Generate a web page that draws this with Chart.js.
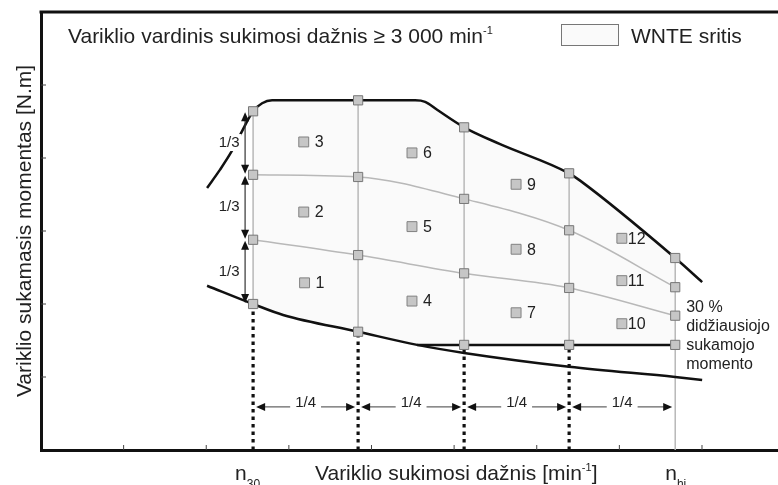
<!DOCTYPE html>
<html>
<head>
<meta charset="utf-8">
<script src="https://cdn.jsdelivr.net/npm/chart.js@4.4.1/dist/chart.umd.min.js"></script>
<style>
    html, body { margin: 0; padding: 0; background: #fff; }
    #wrap { width: 778px; height: 485px; }
</style>
</head>
<body>
<div id="wrap"><canvas id="chart" width="778" height="485"></canvas></div>
<script>
// axis ticks (no labels, only small inner marks)
const xTicks = [1, 2, 3, 4, 5, 6, 7, 8];
const yTicks = [1, 2, 3, 4, 5];

// test grid: 5 speed columns, 4 torque rows on each
const colX = [2.567, 3.838, 5.121, 6.392, 7.676];
const rowBottom = [2.00, 1.62, 1.44, 1.44, 1.44];
const rowLow = [2.88, 2.67, 2.42, 2.22, 1.84];
const rowMid = [3.77, 3.74, 3.44, 3.01, 2.23];
const rowTop = [4.64, 4.79, 4.42, 3.79, 2.63];

// full load torque curve
const fullX = [2.010, 2.167, 2.312, 2.421, 2.567, 2.676, 2.797, 3.838, 4.528, 4.649, 4.794, 5.121, 5.557, 6.392, 6.525, 7.676, 8.002];
const fullY = [3.59, 3.84, 4.10, 4.34, 4.64, 4.75, 4.79, 4.79, 4.79, 4.77, 4.66, 4.42, 4.19, 3.79, 3.69, 2.63, 2.30];

// lower torque curve
const lowX = [2.010, 2.567, 2.930, 3.838, 4.552, 5.121, 6.392, 7.676, 8.002];
const lowY = [2.25, 2.00, 1.85, 1.62, 1.44, 1.33, 1.14, 1.00, 0.96];

// 30 % of max torque line
const pct30 = 1.44;
const pct30FromX = 4.552;

// numbered control zones
const zoneNo = ['1', '2', '3', '4', '5', '6', '7', '8', '9', '10', '11', '12'];
const zoneX = [3.19, 3.18, 3.18, 4.49, 4.49, 4.49, 5.75, 5.75, 5.75, 7.03, 7.03, 7.03];
const zoneY = [2.29, 3.26, 4.22, 2.04, 3.06, 4.07, 1.88, 2.75, 3.64, 1.73, 2.32, 2.90];

const arrowLevel = 0.59;
const FONT = '"Liberation Sans", Arial, sans-serif';

function pts(xs, ys) {
    return xs.map(function (x, i) { return {x: x, y: ys[i]}; });
}

function lineSet(data, color, width, extra) {
    return Object.assign({
        data: data, borderColor: color, borderWidth: width, pointRadius: 0,
        showLine: true, fill: false, order: 2
    }, extra || {});
}

// WNTE area outline
const eps = 1e-6;
const upper = pts(fullX, fullY).filter(function (p) { return p.x >= colX[0] - eps && p.x <= colX[4] + eps; });
const lower = pts(lowX, lowY).filter(function (p) { return p.x >= colX[0] - eps && p.x <= pct30FromX + eps; });
const wnte = upper.concat([{x: colX[4], y: pct30}, {x: pct30FromX, y: pct30}], lower.reverse());

const datasets = [];
datasets.push(lineSet(wnte, 'rgba(0,0,0,0)', 0, {fill: 'shape', backgroundColor: '#fafafa', order: 9}));

colX.forEach(function (x, i) {
    const from = i === colX.length - 1 ? 0 : rowBottom[i];
    datasets.push(lineSet([{x: x, y: from}, {x: x, y: rowTop[i]}], '#b8b8b8', 1.5, {order: 4}));
    if (i < colX.length - 1) {
        datasets.push(lineSet([{x: x, y: 0}, {x: x, y: rowBottom[i]}], '#111', 3.2, {borderDash: [3.5, 4], order: 3}));
    }
});
datasets.push(lineSet(pts(colX, rowLow), '#b8b8b8', 1.5, {cubicInterpolationMode: 'monotone', order: 4}));
datasets.push(lineSet(pts(colX, rowMid), '#b8b8b8', 1.5, {cubicInterpolationMode: 'monotone', order: 4}));

datasets.push(lineSet(pts(fullX, fullY), '#111', 2.5, {cubicInterpolationMode: 'monotone'}));
datasets.push(lineSet(pts(lowX, lowY), '#111', 2.5, {cubicInterpolationMode: 'monotone'}));
datasets.push(lineSet([{x: pct30FromX, y: pct30}, {x: colX[4], y: pct30}], '#111', 2.5));

let grid = [];
[rowBottom, rowLow, rowMid, rowTop].forEach(function (row) { grid = grid.concat(pts(colX, row)); });
datasets.push({
    data: grid, showLine: false, pointStyle: 'rect', pointRadius: 6.5,
    backgroundColor: '#c6c6c6', borderColor: '#777', borderWidth: 1, order: 0
});
datasets.push({
    data: pts(zoneX, zoneY), showLine: false, pointStyle: 'rect', pointRadius: 7,
    backgroundColor: '#c6c6c6', borderColor: '#808080', borderWidth: 1, order: 0
});

function head(ctx, x, y, dx, dy) {
    const L = 9, W = 4;
    ctx.beginPath();
    ctx.moveTo(x, y);
    ctx.lineTo(x - dx * L - dy * W, y - dy * L + dx * W);
    ctx.lineTo(x - dx * L + dy * W, y - dy * L - dx * W);
    ctx.closePath();
    ctx.fill();
}

function supText(ctx, parts, x, y) {
    // parts: [text, size, dy]
    parts.forEach(function (p) {
        ctx.font = p[1] + 'px ' + FONT;
        ctx.fillText(p[0], x, y + p[2]);
        x += ctx.measureText(p[0]).width;
    });
}

const overlay = {
    id: 'overlay',
    afterDatasetsDraw: function (chart) {
        const ctx = chart.ctx, a = chart.chartArea;
        const px = function (v) { return chart.scales.x.getPixelForValue(v); };
        const py = function (v) { return chart.scales.y.getPixelForValue(v); };
        ctx.save();

        // top frame line
        ctx.strokeStyle = '#111';
        ctx.lineWidth = 3;
        ctx.beginPath();
        ctx.moveTo(a.left - 1.5, a.top);
        ctx.lineTo(chart.width, a.top);
        ctx.stroke();

        // inner tick marks
        ctx.lineWidth = 1;
        ctx.strokeStyle = '#444';
        xTicks.forEach(function (v) {
            ctx.beginPath(); ctx.moveTo(px(v), a.bottom); ctx.lineTo(px(v), a.bottom - 5); ctx.stroke();
        });
        yTicks.forEach(function (v) {
            ctx.beginPath(); ctx.moveTo(a.left, py(v)); ctx.lineTo(a.left + 5, py(v)); ctx.stroke();
        });

        ctx.fillStyle = '#222';
        ctx.textBaseline = 'middle';
        ctx.textAlign = 'left';
        ctx.font = '16px ' + FONT;
        zoneNo.forEach(function (t, i) {
            ctx.fillText(t, px(zoneX[i]) + (t.length > 1 ? 6 : 11), py(zoneY[i]) + 1);
        });

        // 1/4 arrows between columns
        ctx.font = '15px ' + FONT;
        ctx.textAlign = 'center';
        ctx.textBaseline = 'alphabetic';
        const ay = py(arrowLevel);
        for (let i = 0; i < colX.length - 1; i++) {
            const x1 = px(colX[i]) + 3, x2 = px(colX[i + 1]) - 3, xm = (x1 + x2) / 2;
            const w = ctx.measureText('1/4').width;
            ctx.strokeStyle = '#666';
            ctx.lineWidth = 1.2;
            ctx.beginPath();
            ctx.moveTo(x1 + 8, ay); ctx.lineTo(xm - w / 2 - 5, ay);
            ctx.moveTo(xm + w / 2 + 5, ay); ctx.lineTo(x2 - 8, ay);
            ctx.stroke();
            ctx.fillStyle = '#111';
            head(ctx, x1, ay, -1, 0);
            head(ctx, x2, ay, 1, 0);
            ctx.fillStyle = '#222';
            ctx.fillText('1/4', xm, ay);
        }

        // 1/3 arrows on the first column
        const rows = [rowBottom, rowLow, rowMid, rowTop];
        const vx = px(colX[0]) - 8;
        ctx.textBaseline = 'middle';
        for (let j = 0; j < 3; j++) {
            const yb = py(rows[j][0]) - 1, yt = py(rows[j + 1][0]) + 1;
            ctx.strokeStyle = '#333';
            ctx.lineWidth = 1.2;
            ctx.beginPath(); ctx.moveTo(vx, yb - 6); ctx.lineTo(vx, yt + 6); ctx.stroke();
            ctx.fillStyle = '#111';
            head(ctx, vx, yt, 0, -1);
            head(ctx, vx, yb, 0, 1);
            const ym = (yb + yt) / 2, lx = vx - 16;
            const w = ctx.measureText('1/3').width;
            ctx.fillStyle = '#fff';
            ctx.fillRect(lx - w / 2 - 2, ym - 9, w + 4, 17);
            ctx.fillStyle = '#222';
            ctx.fillText('1/3', lx, ym);
        }
        ctx.restore();
    },
    afterDraw: function (chart) {
        const ctx = chart.ctx;
        const px = function (v) { return chart.scales.x.getPixelForValue(v); };
        ctx.save();
        ctx.fillStyle = '#222';
        ctx.textBaseline = 'alphabetic';
        ctx.textAlign = 'left';

        supText(ctx, [['Variklio vardinis sukimosi dažnis ≥ 3 000 min', 21, 0], ['-1', 11, -9]], 68, 43);

        ctx.fillStyle = '#fafafa';
        ctx.fillRect(561.5, 24.5, 57, 21);
        ctx.strokeStyle = '#777';
        ctx.lineWidth = 1;
        ctx.strokeRect(561.5, 24.5, 57, 21);
        ctx.fillStyle = '#222';
        ctx.font = '21px ' + FONT;
        ctx.fillText('WNTE sritis', 631, 43);

        supText(ctx, [['Variklio sukimosi dažnis [min', 21, 0], ['-1', 11, -9], [']', 21, 0]], 315, 480);
        supText(ctx, [['n', 21, 0], ['30', 12, 8]], px(colX[0]) - 18, 480);
        supText(ctx, [['n', 21, 0], ['hi', 12, 8]], px(colX[4]) - 10, 480);

        ctx.font = '16px ' + FONT;
        ['30 %', 'didžiausiojo', 'sukamojo', 'momento'].forEach(function (t, i) {
            ctx.fillText(t, px(colX[4]) + 11, 312 + i * 19);
        });

        ctx.translate(31, 231);
        ctx.rotate(-Math.PI / 2);
        ctx.textAlign = 'center';
        ctx.font = '21px ' + FONT;
        ctx.fillText('Variklio sukamasis momentas [N.m]', 0, 0);
        ctx.restore();
    }
};

new Chart(document.getElementById('chart'), {
    type: 'scatter',
    data: {datasets: datasets},
    options: {
        responsive: false,
        animation: false,
        events: [],
        layout: {autoPadding: false, padding: {left: 41, top: 12, right: 0, bottom: 35}},
        plugins: {legend: {display: false}, tooltip: {enabled: false}},
        scales: {
            x: {
                type: 'linear', min: 0, max: 8.92,
                grid: {display: false, drawTicks: false}, ticks: {display: false},
                border: {display: true, color: '#111', width: 3}
            },
            y: {
                type: 'linear', min: 0, max: 6,
                grid: {display: false, drawTicks: false}, ticks: {display: false},
                border: {display: true, color: '#111', width: 3}
            }
        }
    },
    plugins: [overlay]
});
</script>
</body>
</html>
